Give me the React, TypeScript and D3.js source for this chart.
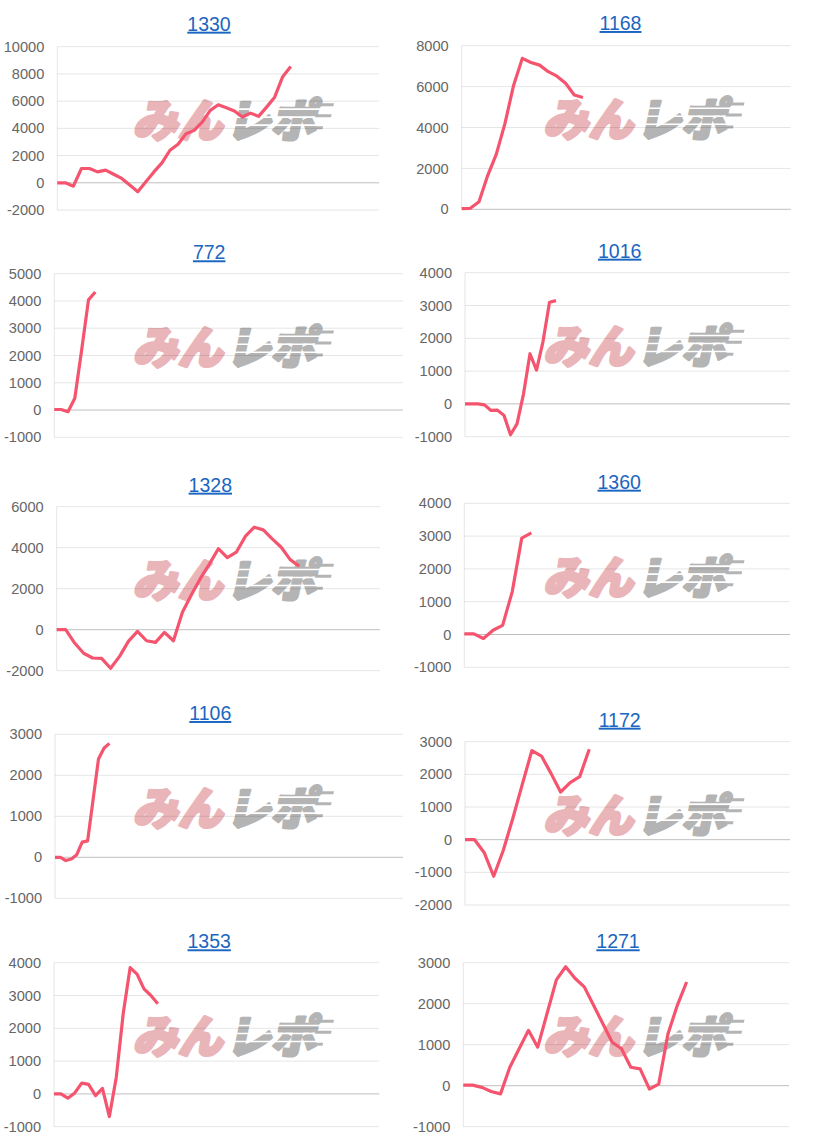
import React from "react";
import * as d3 from "d3";

// ---- data ----
const titles = ["1330", "1168", "772", "1016", "1328", "1360", "1106", "1172", "1353", "1271"];

const s1330 = [0, 0, -250, 1050, 1050, 800, 930, 630, 320, -170, -660, 70, 800, 1460, 2390, 2830, 3610, 3850, 4460, 5320, 5730, 5510, 5270, 4830, 5120, 4880, 5560, 6290, 7800, 8540];
const s1168 = [30, 50, 370, 1650, 2700, 4200, 6070, 7380, 7180, 7050, 6730, 6510, 6160, 5590, 5470];
const s772 = [20, 20, -60, 430, 2200, 4040, 4330];
const s1016 = [0, 0, 0, -30, -200, -190, -350, -940, -610, 300, 1530, 1030, 1900, 3100, 3150];
const s1328 = [0, 0, -650, -1150, -1380, -1400, -1880, -1300, -560, -80, -540, -620, -130, -540, 850, 1700, 2500, 3200, 3950, 3520, 3780, 4550, 5000, 4870, 4430, 4020, 3420, 3100];
const s1360 = [20, 20, -120, 130, 280, 1300, 2940, 3100];
const s1106 = [0, 0, -80, -40, 65, 370, 400, 1400, 2400, 2660, 2780];
const s1172 = [0, 0, -390, -1120, -330, 650, 1700, 2730, 2560, 2030, 1460, 1750, 1930, 2770];
const s1353 = [0, 0, -130, 30, 330, 290, -50, 170, -690, 510, 2450, 3850, 3650, 3200, 3000, 2750];
const s1271 = [15, 15, -40, -140, -200, 450, 900, 1350, 940, 1760, 2580, 2900, 2620, 2410, 1960, 1510, 1060, 900, 450, 410, -80, 40, 1270, 1960, 2530];

const series = [s1330, s1168, s772, s1016, s1328, s1360, s1106, s1172, s1353, s1271];

const yMin = [-2000, 0, -1000, -1000, -2000, -1000, -1000, -2000, -1000, -1000];
const yMax = [10000, 8000, 5000, 4000, 6000, 4000, 3000, 3000, 4000, 3000];
const yStep = [2000, 2000, 1000, 1000, 2000, 1000, 1000, 1000, 1000, 1000];
const xSlots = [40, 38, 51, 50, 36, 34, 64, 34, 47, 35];

// ---- layout (pixel boxes for each panel) ----
const boxes = [
  { tx: 209, ty: 30.7, l: 57.3, r: 379.3, t: 46.7, b: 210, wx: 229 },
  { tx: 620.5, ty: 30, l: 461.7, r: 790.7, t: 45.7, b: 209.3, wx: 639.5 },
  { tx: 209.2, ty: 259.3, l: 54.3, r: 403, t: 273.7, b: 437.3, wx: 229 },
  { tx: 619.7, ty: 257.7, l: 465, r: 790, t: 272.7, b: 436.7, wx: 639.5 },
  { tx: 210.3, ty: 491.7, l: 56.7, r: 380, t: 506.7, b: 670.7, wx: 229 },
  { tx: 619.2, ty: 488.7, l: 464.3, r: 790, t: 503.3, b: 667.3, wx: 639.5 },
  { tx: 210.3, ty: 720, l: 55, r: 403, t: 734.3, b: 898.3, wx: 229 },
  { tx: 619.7, ty: 726.7, l: 465, r: 790, t: 741.7, b: 905, wx: 639.5 },
  { tx: 209.2, ty: 948.3, l: 54, r: 379.3, t: 962.7, b: 1126.7, wx: 229 },
  { tx: 618, ty: 948.3, l: 463.3, r: 789, t: 962.7, b: 1126.7, wx: 639.5 },
];

const LINE = "#f5546f";
const FONT = "'Liberation Sans', Arial, Helvetica, sans-serif";
const PINK = "#eab5b9";
const GRAY = "#b4b4b4";

function Watermark({ x, y }: { x: number; y: number }) {
  const streaks = [-9, -1, 7];
  return (
    <g transform={`translate(${x},${y}) skewX(-12)`}>
      <text
        x={-2}
        y={0}
        textAnchor="end"
        dominantBaseline="central"
        fontFamily="'Noto Sans CJK JP', sans-serif"
        fontWeight={900}
        fontSize={45}
        fill={PINK}
        stroke={PINK}
        strokeWidth={3}
        strokeLinejoin="round"
      >
        みん
      </text>
      <text
        x={1}
        y={0}
        textAnchor="start"
        dominantBaseline="central"
        fontFamily="'Noto Sans CJK JP', sans-serif"
        fontWeight={900}
        fontSize={45}
        fill={GRAY}
        stroke={GRAY}
        strokeWidth={3}
        strokeLinejoin="round"
      >
        レポ
      </text>
      {streaks.map((s, i) => (
        <rect key={i} x={0} y={s} width={104} height={1.6} fill="#ffffff" />
      ))}
      <rect x={84} y={-14} width={18} height={3} fill={GRAY} />
      <rect x={86} y={-3} width={16} height={3} fill={GRAY} />
      <rect x={80} y={9} width={16} height={3} fill={GRAY} />
    </g>
  );
}

function Panel({ i }: { i: number }) {
  const bx = boxes[i];
  const data = series[i];
  const y = d3.scaleLinear().domain([yMin[i], yMax[i]]).range([bx.b, bx.t]);
  const x = d3.scaleLinear().domain([0, xSlots[i]]).range([bx.l, bx.r]);
  const ticks = d3.range(yMin[i], yMax[i] + 1, yStep[i]);
  const line = d3
    .line<number>()
    .x((_, k) => x(k))
    .y((v) => y(v))
    .curve(d3.curveLinear);
  const wy = (bx.t + bx.b) / 2 - 11;
  return (
    <g>
      <Watermark x={bx.wx} y={wy} />
      {ticks.map((v) => (
        <line
          key={v}
          x1={bx.l}
          x2={bx.r}
          y1={y(v)}
          y2={y(v)}
          stroke={v === 0 ? "rgba(0,0,0,0.25)" : "rgba(0,0,0,0.1)"}
          strokeWidth={1}
        />
      ))}
      <line x1={bx.l} x2={bx.l} y1={bx.t} y2={bx.b} stroke="rgba(0,0,0,0.1)" strokeWidth={1} />
      {ticks.map((v) => (
        <text
          key={"t" + v}
          x={bx.l - 13}
          y={y(v)}
          dy="0.35em"
          textAnchor="end"
          fontFamily={FONT}
          fontSize={14.6}
          fill="#666"
        >
          {v}
        </text>
      ))}
      <path d={line(data) || ""} fill="none" stroke={LINE} strokeWidth={3.2} strokeLinejoin="round" />
      <text
        x={bx.tx}
        y={bx.ty}
        textAnchor="middle"
        fontFamily={FONT}
        fontSize={19.5}
        fill="#1a66c0"
        textDecoration="underline"
        style={{ textDecoration: "underline" }}
      >
        {titles[i]}
      </text>
    </g>
  );
}

export default function App() {
  return (
    <svg
      width={813}
      height={1145}
      style={{ position: "absolute", left: 0, top: 0, background: "#fff" }}
    >
      <rect width={813} height={1145} fill="#fff" />
      {titles.map((_, i) => (
        <Panel key={i} i={i} />
      ))}
    </svg>
  );
}
